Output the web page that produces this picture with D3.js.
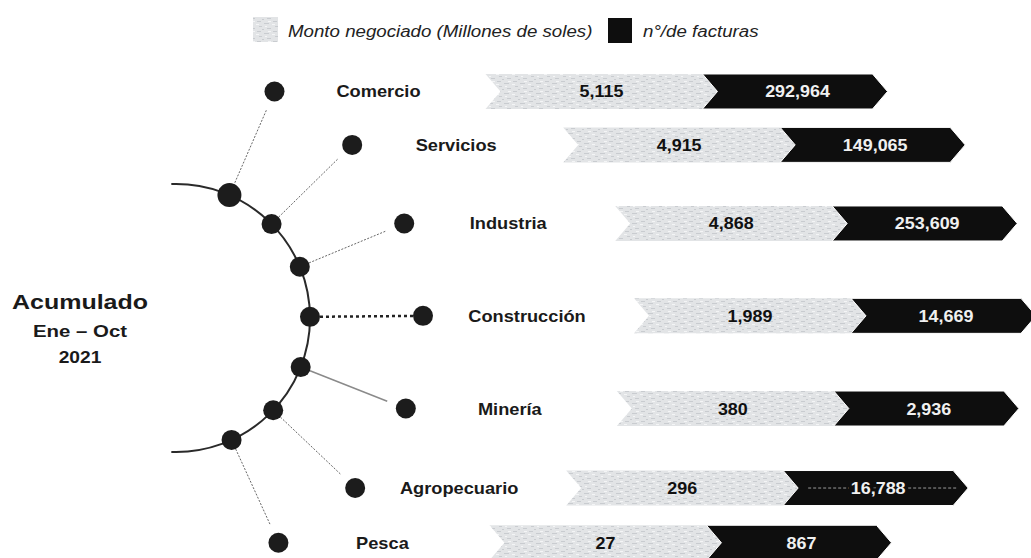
<!DOCTYPE html>
<html>
<head>
<meta charset="utf-8">
<script src="https://cdn.jsdelivr.net/npm/d3@7"></script>
<style>
  body { margin: 0; background: #fff; }
  text { font-family: "Liberation Sans", Arial, sans-serif; }
</style>
</head>
<body>
<svg id="chart"></svg>
<script>
var categories = ["Comercio", "Servicios", "Industria", "Construcción", "Minería", "Agropecuario", "Pesca"];
var montoValues = [5115, 4915, 4868, 1989, 380, 296, 27];
var facturasValues = [292964, 149065, 253609, 14669, 2936, 16788, 867];
var legendLabels = ["Monto negociado (Millones de soles)", "n°/de facturas"];
var periodLabels = ["Acumulado", "Ene – Oct", "2021"];

var width = 1031, height = 558;
var cx = 176, cy = 318, rInner = 134, rOuter = 247;
var fmt = d3.format(",");

var svg = d3.select("#chart")
  .attr("width", width)
  .attr("height", height);

// grainy light fill, like the scanned original
var defs = svg.append("defs");
var pat = defs.append("pattern")
  .attr("id", "grain")
  .attr("patternUnits", "userSpaceOnUse")
  .attr("width", 16)
  .attr("height", 10);
pat.append("rect").attr("width", 16).attr("height", 10).attr("fill", "#e2e4e6");
[[1, 1, 4], [8, 3, 5], [3, 6, 3], [11, 8, 4], [6, 9, 2]].forEach(function(m) {
  pat.append("rect").attr("x", m[0]).attr("y", m[1]).attr("width", m[2]).attr("height", 1).attr("fill", "#c9ccd0");
});
[[12, 1, 3], [0, 4, 3], [9, 6, 2]].forEach(function(m) {
  pat.append("rect").attr("x", m[0]).attr("y", m[1]).attr("width", m[2]).attr("height", 1).attr("fill", "#f4f5f6");
});

function stretch(sel, x, y, k) {
  sel.attr("transform", "translate(" + x + "," + y + ") scale(" + k + ",1)");
  return sel;
}

// angle of each branch, degrees
var angle = d3.scalePoint().domain(categories).range([-66.5, 65.5]);

function polar(r, deg) {
  var a = deg * Math.PI / 180;
  return [cx + r * Math.cos(a), cy + r * Math.sin(a)];
}

var rows = categories.map(function(c, i) {
  var inner = polar(rInner, angle(c));
  var outer = polar(rOuter, angle(c));
  return { name: c, monto: montoValues[i], facturas: facturasValues[i],
           a: angle(c), inner: inner, outer: outer };
});

// legend
svg.append("rect").attr("x", 253).attr("y", 17).attr("width", 25).attr("height", 25).attr("fill", "url(#grain)");
stretch(svg.append("text"), 288, 37, 1.1)
  .attr("font-size", 17).attr("font-style", "italic").attr("fill", "#222")
  .text(legendLabels[0]);
svg.append("rect").attr("x", 608).attr("y", 18).attr("width", 24).attr("height", 25).attr("fill", "#0e0e0e");
stretch(svg.append("text"), 643, 37, 1.1)
  .attr("font-size", 17).attr("font-style", "italic").attr("fill", "#222")
  .text(legendLabels[1]);

// period text on the left
stretch(svg.append("text"), 80, 309, 1.19)
  .attr("text-anchor", "middle").attr("font-size", 21).attr("font-weight", "bold").attr("fill", "#1a1a1a")
  .text(periodLabels[0]);
stretch(svg.append("text"), 80, 337, 1.2)
  .attr("text-anchor", "middle").attr("font-size", 17).attr("font-weight", "bold").attr("fill", "#1a1a1a")
  .text(periodLabels[1]);
stretch(svg.append("text"), 80, 363, 1.2)
  .attr("text-anchor", "middle").attr("font-size", 16).attr("font-weight", "bold").attr("fill", "#1a1a1a")
  .text(periodLabels[2]);

// main arc
var arcPath = d3.path();
arcPath.arc(cx, cy, rInner, -92 * Math.PI / 180, 92 * Math.PI / 180);
svg.append("path")
  .attr("d", arcPath.toString())
  .attr("fill", "none")
  .attr("stroke", "#2a2a2a")
  .attr("stroke-width", 2);

// connectors
rows.forEach(function(d) {
  var isCons = d.name === "Construcción";
  var isMin = d.name === "Minería";
  var start = polar(rInner + 10, d.a);
  var end = polar(rOuter - (isCons ? 10 : 20), d.a);
  svg.append("line")
    .attr("x1", start[0]).attr("y1", start[1])
    .attr("x2", end[0]).attr("y2", end[1])
    .attr("stroke", isCons ? "#222" : (isMin ? "#8a8a8a" : "#666"))
    .attr("stroke-width", isCons ? 2.5 : (isMin ? 1.5 : 1))
    .attr("stroke-dasharray", isCons ? "3,3" : (isMin ? null : "2,1.5"));
});

// dots
svg.selectAll(".inner-dot")
  .data(rows)
  .enter().append("circle")
  .attr("class", "inner-dot")
  .attr("cx", function(d) { return d.inner[0]; })
  .attr("cy", function(d) { return d.inner[1]; })
  .attr("r", function(d, i) { return i === 0 ? 12 : 10; })
  .attr("fill", "#1c1c1c");

svg.selectAll(".outer-dot")
  .data(rows)
  .enter().append("circle")
  .attr("class", "outer-dot")
  .attr("cx", function(d) { return d.outer[0]; })
  .attr("cy", function(d) { return d.outer[1]; })
  .attr("r", 10)
  .attr("fill", "#1c1c1c");

// chevron arrows
var arrowH = 35, tip = 15, lightW = 217, darkW = 170;

function chevron(x0, y, w) {
  var t = y - arrowH / 2, b = y + arrowH / 2;
  return "M" + x0 + "," + t + "L" + (x0 + w) + "," + t + "L" + (x0 + w + tip) + "," + y +
    "L" + (x0 + w) + "," + b + "L" + x0 + "," + b + "L" + (x0 + tip) + "," + y + "Z";
}

rows.forEach(function(d) {
  var y = d.outer[1];
  var s = d.outer[0] + 211;

  stretch(svg.append("text"), s - 107, y + 6, 1.14)
    .attr("text-anchor", "middle").attr("font-size", 16).attr("font-weight", "bold").attr("fill", "#1a1a1a")
    .text(d.name);

  svg.append("path")
    .attr("d", chevron(s, y, lightW))
    .attr("fill", "url(#grain)");

  svg.append("path")
    .attr("d", chevron(s + lightW, y, darkW))
    .attr("fill", "#0e0e0e")
    .attr("stroke", "#fff")
    .attr("stroke-width", 1);

  if (d.name === "Agropecuario") {
    svg.append("line")
      .attr("x1", s + lightW + 25).attr("y1", y)
      .attr("x2", s + lightW + darkW + 5).attr("y2", y)
      .attr("stroke", "#9a9a9a").attr("stroke-width", 1)
      .attr("stroke-dasharray", "3,2");
  }

  stretch(svg.append("text"), s + 116, y + 6, 1.12)
    .attr("text-anchor", "middle").attr("font-size", 16).attr("font-weight", "bold").attr("fill", "#111")
    .text(fmt(d.monto));

  var lab = stretch(svg.append("text"), s + 312, y + 6, 1.12)
    .attr("text-anchor", "middle").attr("font-size", 16).attr("font-weight", "bold").attr("fill", "#f0f0f0")
    .text(fmt(d.facturas));
  if (d.name === "Agropecuario") lab.attr("stroke", "#0e0e0e").attr("stroke-width", 6).attr("paint-order", "stroke");
});
</script>
</body>
</html>
